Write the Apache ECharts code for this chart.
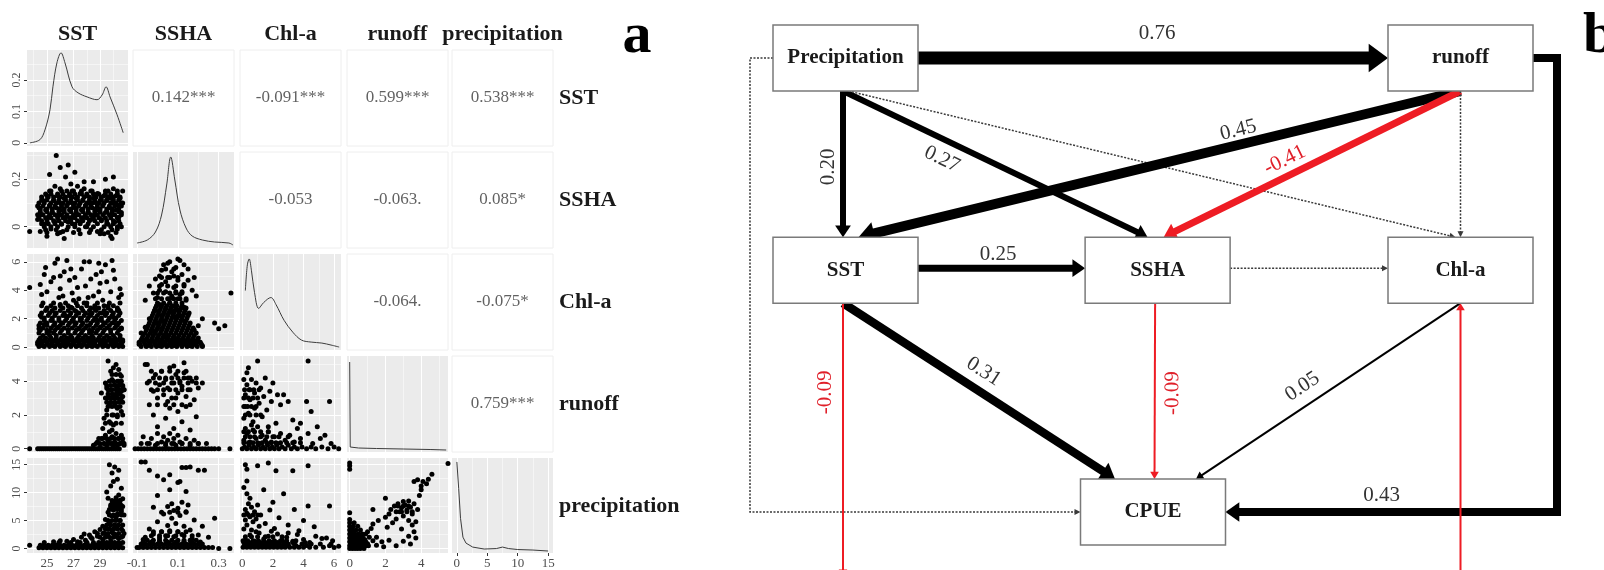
<!DOCTYPE html>
<html><head><meta charset="utf-8">
<script src="https://cdn.jsdelivr.net/npm/echarts@6/dist/echarts.min.js"></script>
<style>html,body{margin:0;padding:0;background:#fff}#c{width:1604px;height:570px}</style>
</head><body><div id="c"></div>
<script>
// ---------------- DATA ----------------
const variables = ['SST', 'SSHA', 'Chl-a', 'runoff', 'precipitation'];
const xTickValues = [[25, 27, 29], [-0.1, 0.1, 0.3], [0, 2, 4, 6], [0, 2, 4], [0, 5, 10, 15]];
const yTickValues = [[0, 0.1, 0.2], [0, 0.2], [0, 2, 4, 6], [0, 2, 4], [0, 5, 10, 15]];
const xMinorValues = [[24, 26, 28, 30], [0, 0.2], [1, 3, 5], [1, 3, 5], [2.5, 7.5, 12.5]];
const yMinorValues = [[0.05, 0.15, 0.25], [0.1, 0.3], [1, 3, 5], [1, 3, 5], [2.5, 7.5, 12.5]];

// correlation labels (upper triangle), [row][col]
const corrLabels = [
  [null, '0.142***', '-0.091***', '0.599***', '0.538***'],
  [null, null, '-0.053', '-0.063.', '0.085*'],
  [null, null, null, '-0.064.', '-0.075*'],
  [null, null, null, null, '0.759***'],
  [null, null, null, null, null]
];

// diagonal densities [value, density]
const densitySST = [[23.72,0.0],[24.47,0.01],[24.85,0.041],[25.23,0.105],[25.45,0.178],[25.75,0.254],[26.06,0.286],[26.36,0.254],[26.89,0.178],[27.34,0.159],[28.02,0.146],[28.77,0.137],[29.15,0.152],[29.45,0.178],[29.75,0.146],[30.28,0.089],[30.74,0.032]];
const densitySSHA = [[-0.1,0.5],[-0.05,0.8],[-0.01,1.6],[0.02,3.3],[0.045,6.3],[0.065,9.1],[0.085,6.8],[0.11,3.8],[0.14,2.0],[0.17,1.2],[0.22,0.8],[0.28,0.6],[0.35,0.5],[0.37,0.3]];
const densityChl = [[0.2,6.0],[0.33,8.6],[0.45,9.2],[0.6,8.0],[0.8,5.8],[1.07,4.2],[1.4,4.8],[1.87,5.3],[2.2,4.6],[2.73,3.0],[3.3,1.8],[3.87,1.0],[4.5,0.8],[5.2,0.7],[5.8,0.5],[6.33,0.3]];
const densityRunoff = [[0,9.0],[0.03,0.5],[0.5,0.4],[1.5,0.35],[3,0.3],[4.5,0.25],[5.4,0.2]];
const densityPrecip = [[0,9.2],[0.3,6.5],[0.6,3.5],[1.0,1.6],[1.5,1.0],[2.6,0.6],[4.5,0.4],[6.5,0.45],[7.5,0.6],[8.5,0.45],[10,0.35],[12.5,0.3],[15,0.2]];

// lower panels: scattered points [x, y]
const scatterSSHA_SST = [[25.7,0.30],[26.6,0.26],[26.0,0.25],[25.2,0.22],[27.1,0.23],[26.4,0.21],[29.4,0.20],[30.0,0.21],[28.5,0.19],[27.8,0.19],[30.7,0.15],[23.7,-0.02],
[24.3,0.03],[24.4,0.08],[24.5,-0.02],[24.6,0.05],[24.7,0.11],[24.8,0.01],[24.9,0.07],[25.0,-0.04],[25.0,0.13],[25.1,0.04],[25.2,0.09],[25.3,-0.01],[25.3,0.15],[25.4,0.06],[25.5,0.11],[25.6,0.02],[25.6,0.17],[25.7,0.08],[25.8,-0.03],[25.8,0.13],[25.9,0.05],[26.0,0.10],[26.0,0.16],[26.1,0.01],[26.2,0.07],[26.3,0.12],[26.3,-0.05],[26.4,0.04],[26.5,0.09],[26.5,0.15],
[26.6,0.02],[26.7,0.07],[26.7,0.13],[26.8,0.18],[26.9,0.04],[26.9,0.10],[27.0,0.15],[27.1,0.01],[27.1,0.08],[27.2,0.12],[27.3,0.05],[27.3,0.17],[27.4,0.09],[27.5,0.14],[27.5,0.02],[27.6,0.07],[27.7,0.11],[27.8,0.04],[27.8,0.16],[27.9,0.09],[28.0,0.13],[28.0,0.00],[28.1,0.06],[28.2,0.10],[28.3,0.15],[28.3,0.03],[28.4,0.08],[28.5,0.12],[28.6,0.05],[28.7,0.10],[28.8,0.14],[28.8,-0.02],[28.9,0.07],[29.0,0.11],
[29.1,0.03],[29.2,0.09],[29.3,0.13],[29.3,-0.03],[29.4,0.06],[29.5,0.11],[29.6,0.01],[29.6,0.15],[29.7,0.08],[29.8,0.12],[29.8,-0.04],[29.9,0.05],[30.0,0.10],[30.0,0.16],[30.1,0.02],[30.2,0.07],[30.2,0.13],[30.3,-0.01],[30.4,0.09],[30.4,0.04],[30.5,0.12],[30.6,0.06],[30.6,0.00],[30.7,0.10],[29.9,-0.05],[29.0,-0.03],[27.5,-0.03],[26.2,-0.02]];
// dense cores, rows of [y, [x values]]
const coreSSHA_SST = [
  [0.15,[25.2,26.1,26.9,27.6,28.4,29.4,30.3]],
  [0.1375,[24.9,25.3,25.8,26.2,26.7,27.1,27.6,28.0,28.5,28.9,29.4,29.8,30.3]],
  [0.125,[24.6,25.1,25.5,26.0,26.4,26.9,27.3,27.8,28.2,28.7,29.1,29.6,30.0,30.5]],
  [0.1125,[24.6,25.0,25.5,25.9,26.4,26.8,27.3,27.7,28.2,28.6,29.1,29.5,30.0,30.4]],
  [0.10,[24.4,24.8,25.3,25.7,26.2,26.6,27.1,27.5,28.0,28.4,28.9,29.3,29.8,30.2,30.6]],
  [0.0875,[24.3,24.7,25.2,25.6,26.1,26.5,27.0,27.4,27.9,28.3,28.8,29.2,29.7,30.1,30.6]],
  [0.075,[24.5,25.0,25.4,25.9,26.3,26.8,27.2,27.7,28.1,28.6,29.0,29.5,29.9,30.4]],
  [0.0625,[24.5,25.0,25.4,25.9,26.3,26.8,27.2,27.7,28.1,28.6,29.0,29.5,29.9,30.4]],
  [0.05,[24.3,24.7,25.2,25.6,26.1,26.5,27.0,27.4,27.9,28.3,28.8,29.2,29.7,30.1,30.6]],
  [0.0375,[24.4,24.9,25.3,25.8,26.2,26.7,27.1,27.6,28.0,28.5,28.9,29.4,29.8,30.3]],
  [0.025,[24.6,25.0,25.5,25.9,26.4,26.8,27.3,27.7,28.2,28.6,29.1,29.5,30.0,30.4]],
  [0.0125,[24.6,25.1,25.6,26.1,26.9,27.5,28.1,28.8,29.5,30.0,30.5]],
  [0.0,[24.8,25.3,25.8,26.6,27.1,27.9,28.5,29.3,29.8,30.3]],
  [-0.0125,[24.9,25.7,26.5,27.4,28.3,29.1,29.9]],
  [-0.025,[25.0,26.0,27.0,28.2,29.6,30.2]]
];

const scatterChl_SST = [[24.3,0.2],[24.5,0.5],[24.7,0.1],[24.9,0.4],[25.1,0.2],[25.3,0.6],[25.5,0.1],[25.7,0.4],[25.9,0.2],[26.1,0.5],[26.3,0.1],[26.5,0.3],[26.7,0.6],[26.9,0.2],[27.1,0.4],[27.3,0.1],[27.5,0.5],[27.7,0.2],[27.9,0.4],[28.1,0.1],[28.3,0.6],[28.5,0.3],[28.7,0.1],[28.9,0.5],[29.1,0.2],[29.3,0.4],[29.5,0.1],[29.7,0.6],[29.9,0.3],[30.1,0.1],[30.3,0.5],[30.5,0.2],[30.7,0.4],
[24.4,1.3],[24.6,2.1],[24.8,1.6],[25.0,2.7],[25.2,1.1],[25.4,1.9],[25.6,2.4],[25.8,1.4],[26.0,3.0],[26.2,1.7],[26.4,2.2],[26.6,1.2],[26.8,2.8],[27.0,1.8],[27.2,2.5],[27.4,1.3],[27.6,2.0],[27.8,3.1],[28.0,1.5],[28.2,2.3],[28.4,1.1],[28.6,2.7],[28.8,1.9],[29.0,1.4],[29.2,2.4],[29.4,1.7],[29.6,2.9],[29.8,1.2],[30.0,2.1],[30.2,1.6],[30.4,2.6],[30.6,1.3],
[24.9,5.6],[25.3,4.6],[25.6,5.9],[26.0,4.1],[26.3,5.3],[26.5,6.1],[26.9,3.8],[27.1,4.9],[27.6,5.5],[27.9,4.3],[28.2,6.0],[28.5,3.6],[28.7,5.1],[29.0,4.5],[29.4,5.8],[29.8,3.9],[30.1,4.8],[30.4,3.5],[25.9,3.5],[27.4,3.4],[29.2,3.3],[24.6,3.7],[23.7,4.2],[26.7,4.7],[28.9,5.9],
[24.5,4.4],[25.0,3.9],[25.5,4.9],[26.2,3.6],[26.8,5.5],[27.3,4.2],[27.8,6.0],[28.3,4.8],[28.9,3.9],[29.5,4.6],[30.0,5.4],[30.5,4.1],[25.8,6.2],[27.0,3.3],[29.9,6.1],[28.1,3.5],[30.6,3.7],[24.8,5.1],[26.0,5.0],[29.1,5.3]];
const coreChl_SST = [
  [0.05,[24.4,24.8,25.2,25.6,26.0,26.4,26.8,27.2,27.6,28.0,28.4,28.8,29.2,29.6,30.0,30.4,30.7]],
  [0.2,[24.6,25.0,25.4,25.8,26.2,26.6,27.0,27.4,27.8,28.2,28.6,29.0,29.4,29.8,30.2,30.6]],
  [0.35,[24.3,24.6,25.0,25.4,25.8,26.2,26.6,27.0,27.4,27.8,28.2,28.6,29.0,29.4,29.8,30.2,30.6]],
  [0.5,[24.4,24.8,25.2,25.6,26.0,26.4,26.8,27.2,27.6,28.0,28.4,28.8,29.2,29.6,30.0,30.4,30.7]],
  [0.65,[24.5,24.9,25.3,25.7,26.1,26.5,26.9,27.3,27.7,28.1,28.5,28.9,29.3,29.7,30.1,30.5]],
  [0.82,[24.7,25.2,25.7,26.3,26.8,27.4,27.9,28.4,29.0,29.5,30.0,30.5]],
  [1.0,[24.4,25.0,25.5,26.0,26.6,27.1,27.6,28.2,28.7,29.2,29.8,30.3]],
  [1.18,[24.5,25.0,25.6,26.1,26.6,27.2,27.7,28.2,28.8,29.3,29.8,30.4]],
  [1.35,[24.7,25.3,25.8,26.3,26.9,27.4,27.9,28.5,29.0,29.5,30.1,30.6]],
  [1.52,[24.4,25.0,25.5,26.0,26.6,27.1,27.6,28.2,28.7,29.2,29.7,30.3]],
  [1.7,[24.5,25.0,25.6,26.1,26.7,27.2,27.7,28.3,28.8,29.3,29.9,30.4]],
  [1.88,[24.8,25.3,25.9,26.4,26.9,27.5,28.0,28.5,29.1,29.6,30.1,30.6]],
  [2.05,[24.8,25.4,25.9,26.5,27.0,27.5,28.1,28.6,29.1,29.7,30.2]],
  [2.22,[24.5,25.1,25.6,26.2,26.7,27.2,27.8,28.3,28.8,29.4,29.9,30.4]],
  [2.4,[24.6,25.2,25.7,26.3,26.8,27.4,27.9,28.4,29.0,29.5,30.0,30.5]],
  [2.58,[24.9,25.4,26.0,26.6,27.1,27.7,28.2,28.7,29.3,29.8,30.3]],
  [2.75,[25.0,25.6,26.2,26.9,27.6,28.3,28.9,29.6,30.3]],
  [2.92,[24.6,25.3,26.0,26.6,27.3,28.0,28.6,29.3,30.0]],
  [3.1,[24.7,25.5,26.4,27.2,28.0,28.8,29.7,30.5]]
];

const scatterChl_SSHA = [[-0.09,0.2],[-0.07,0.5],[-0.05,0.1],[-0.03,0.4],[-0.01,0.2],[0.0,0.6],[0.01,0.1],[0.02,0.4],[0.03,0.2],[0.04,0.7],[0.05,0.1],[0.06,0.4],[0.07,0.2],[0.08,0.6],[0.09,0.1],[0.1,0.3],[0.11,0.5],[0.12,0.1],[0.13,0.4],[0.14,0.2],[0.15,0.6],[0.16,0.1],[0.17,0.3],[0.18,0.2],[0.2,0.4],[0.22,0.1],
[-0.06,1.4],[-0.04,2.0],[-0.02,1.1],[-0.01,2.6],[0.0,1.7],[0.01,3.0],[0.02,1.3],[0.02,2.2],[0.03,1.8],[0.04,2.7],[0.05,2.3],[0.06,3.1],[0.07,2.5],[0.08,2.9],[0.09,2.1],[0.10,2.6],[0.11,2.2],[0.12,1.9],[0.13,2.8],[0.15,2.3],[0.18,1.2],[0.2,1.5],[0.22,2.0],[0.3,1.3],[0.33,1.5],[0.36,3.8],[-0.08,1.0],[0.28,1.7],
[0.0,3.5],[0.02,4.4],[0.03,5.8],[0.04,3.9],[0.05,4.9],[0.06,6.0],[0.07,3.6],[0.07,5.3],[0.08,4.2],[0.09,5.6],[0.1,3.4],[0.1,4.7],[0.11,6.1],[0.12,3.9],[0.12,5.1],[0.13,4.4],[0.14,3.3],[0.15,5.5],[0.17,4.0],[0.01,5.0],[-0.02,3.8],[0.09,3.9],[0.05,5.9],[0.19,3.6],[-0.04,4.3],
[0.01,4.0],[0.04,4.6],[0.08,5.0],[0.11,3.7],[0.13,5.8],[0.02,5.4],[0.06,3.4],[0.1,6.2],[0.15,4.7],[-0.01,4.8],[-0.06,3.3],[0.18,4.9]];
const coreChl_SSHA = [
  [0.05,[-0.08,-0.055,-0.03,-0.005,0.02,0.045,0.07,0.095,0.12,0.145,0.17,0.195,0.22]],
  [0.2,[-0.085,-0.06,-0.035,-0.01,0.015,0.04,0.065,0.09,0.115,0.14,0.165,0.19,0.215]],
  [0.35,[-0.09,-0.065,-0.04,-0.015,0.01,0.035,0.06,0.085,0.11,0.135,0.16,0.185,0.21]],
  [0.5,[-0.08,-0.055,-0.03,-0.005,0.02,0.045,0.07,0.095,0.12,0.145,0.17,0.195]],
  [0.65,[-0.075,-0.05,-0.025,0.0,0.025,0.05,0.075,0.1,0.125,0.15,0.175,0.2]],
  [0.82,[-0.07,-0.045,-0.02,0.005,0.03,0.055,0.08,0.105,0.13,0.155,0.18]],
  [1.0,[-0.06,-0.035,-0.01,0.015,0.04,0.065,0.09,0.115,0.14,0.165,0.19]],
  [1.18,[-0.055,-0.03,-0.005,0.02,0.045,0.07,0.095,0.12,0.145,0.17]],
  [1.35,[-0.05,-0.025,0.0,0.025,0.05,0.075,0.1,0.125,0.15,0.175]],
  [1.52,[-0.045,-0.02,0.005,0.03,0.055,0.08,0.105,0.13,0.155]],
  [1.7,[-0.04,-0.015,0.01,0.035,0.06,0.085,0.11,0.135,0.16]],
  [1.88,[-0.035,-0.01,0.015,0.04,0.065,0.09,0.115,0.14]],
  [2.05,[-0.03,-0.005,0.02,0.045,0.07,0.095,0.12,0.145]],
  [2.22,[-0.025,0.0,0.025,0.05,0.075,0.1,0.125,0.15]],
  [2.4,[-0.02,0.005,0.03,0.055,0.08,0.105,0.13,0.155]],
  [2.58,[-0.015,0.01,0.035,0.06,0.085,0.11,0.135]],
  [2.75,[-0.01,0.015,0.04,0.065,0.09,0.115,0.14]],
  [2.92,[-0.005,0.02,0.045,0.07,0.095,0.12]],
  [3.1,[0.0,0.03,0.06,0.09,0.12]],
  [3.4,[-0.01,0.02,0.05,0.08,0.11,0.14]],
  [3.8,[0.0,0.03,0.06,0.09,0.12]],
  [4.3,[0.01,0.05,0.09,0.13]],
  [4.9,[0.02,0.06,0.1]],
  [5.5,[0.04,0.08]]
];

const scatterRunoff_SST = [[23.7,0],[24.3,0],[24.45,0],[24.6,0],[24.75,0],[24.9,0],[25.05,0],[25.2,0],[25.35,0],[25.5,0],[25.65,0],[25.8,0],[25.95,0],[26.1,0],[26.25,0],[26.4,0],[26.55,0],[26.7,0],[26.85,0],[27.0,0],[27.15,0],[27.3,0],[27.45,0],[27.6,0],[27.75,0],[27.9,0],[28.05,0],[28.2,0],[28.35,0],[28.5,0],[28.65,0],[28.8,0],[28.95,0],[29.1,0],[29.25,0],[29.4,0],[29.55,0],[29.7,0],[29.85,0],[30.0,0],[30.15,0],[30.3,0],[30.45,0],
[28.5,0.2],[28.8,0.4],[29.0,0.1],[29.1,0.6],[29.3,0.3],[29.4,0.8],[29.5,0.2],[29.6,0.5],[29.7,1.0],[29.8,0.3],[29.9,0.7],[30.0,0.1],[30.1,0.4],[30.2,0.9],[30.3,0.2],[30.4,0.6],[30.5,0.3],[30.6,0.8],[30.7,0.4],[30.8,0.2],[29.2,1.2],[30.0,1.4],[29.9,1.1],
[29.3,1.8],[29.5,2.3],[29.6,3.0],[29.7,2.6],[29.8,3.5],[29.9,4.1],[30.0,2.0],[30.0,3.2],[30.1,3.8],[30.1,2.7],[30.2,4.4],[30.2,3.0],[30.3,2.4],[30.3,3.6],[30.4,4.0],[30.4,3.3],[30.5,2.8],[30.5,3.9],[30.6,3.4],[30.6,4.3],[30.7,3.1],[30.7,3.7],[29.8,4.6],[30.0,4.8],[29.6,5.2],[30.2,5.0],[30.4,4.7],[29.4,3.9],[29.1,3.3],[29.5,3.6],[30.8,3.5],[30.1,3.1],[29.9,3.0],[30.3,1.9],[30.6,2.2],[29.7,1.6]];
const coreRunoff_SST = [
  [0.3,[28.7,29.0,29.3,29.6,29.9,30.2,30.5,30.8]],
  [0.6,[28.9,29.2,29.5,29.8,30.1,30.4,30.7]],
  [1.5,[29.4,29.8,30.2,30.6]],
  [2.0,[29.5,29.9,30.3,30.7]],
  [2.5,[29.6,29.9,30.2,30.5]],
  [2.75,[29.5,29.8,30.1,30.4,30.7]],
  [3.0,[29.4,29.7,30.0,30.3,30.6]],
  [3.25,[29.6,29.9,30.2,30.5]],
  [3.5,[29.6,29.9,30.2,30.5,30.8]],
  [3.75,[29.5,29.8,30.1,30.4,30.7]],
  [4.0,[29.7,30.0,30.3,30.6]],
  [4.4,[29.9,30.5]]
];

const scatterRunoff_SSHA = [[-0.11,0],[-0.095,0],[-0.08,0],[-0.065,0],[-0.05,0],[-0.035,0],[-0.02,0],[-0.005,0],[0.01,0],[0.025,0],[0.04,0],[0.055,0],[0.07,0],[0.085,0],[0.1,0],[0.115,0],[0.13,0],[0.145,0],[0.16,0],[0.175,0],[0.19,0],[0.205,0],[0.22,0],[0.235,0],[0.25,0],[0.265,0],[0.28,0],[0.30,0],[0.355,0],
[-0.05,0.3],[-0.03,0.6],[-0.01,0.2],[0.0,0.9],[0.02,0.4],[0.03,0.7],[0.04,0.2],[0.05,0.5],[0.06,0.9],[0.07,0.3],[0.08,0.6],[0.09,0.2],[0.1,0.8],[0.11,0.4],[0.12,0.3],[0.14,0.6],[0.16,0.2],[0.18,0.5],[-0.07,0.7],[0.2,0.3],
[0.0,1.3],[0.04,1.8],[0.08,1.2],[0.1,2.2],[0.12,1.6],[0.14,2.5],[0.06,2.4],[-0.02,2.0],[0.16,1.1],[0.19,1.9],
[-0.06,5.0],[-0.05,5.0],[-0.04,4.0],[-0.02,3.4],[-0.01,4.4],[0.0,3.0],[0.01,3.8],[0.02,4.6],[0.03,3.2],[0.04,4.1],[0.05,3.6],[0.06,4.8],[0.07,3.0],[0.08,3.9],[0.09,4.4],[0.1,3.3],[0.11,4.0],[0.12,3.7],[0.13,4.5],[0.14,3.1],[0.15,4.2],[0.16,3.5],[0.17,4.0],[0.18,2.9],[0.2,3.6],[0.22,3.9],[0.05,2.8],[0.09,3.0],[0.13,5.1],[0.08,4.9]];
const coreRunoff_SSHA = [
  [0.3,[-0.08,-0.04,0.0,0.04,0.08,0.12,0.16,0.2,0.24]],
  [2.6,[-0.04,0.0,0.04,0.08,0.12,0.16]],
  [3.5,[-0.03,0.0,0.03,0.06,0.09,0.12,0.15]],
  [3.9,[-0.05,-0.01,0.03,0.07,0.11,0.15,0.19]],
  [4.2,[-0.02,0.01,0.04,0.07,0.1,0.13,0.16,0.19]],
  [4.6,[-0.03,0.02,0.06,0.1,0.14]]
];

const scatterRunoff_Chl = [[0.0,0],[0.15,0.1],[0.3,0],[0.45,0.2],[0.6,0],[0.75,0.1],[0.9,0],[1.05,0.2],[1.2,0],[1.35,0.1],[1.5,0],[1.65,0.2],[1.8,0],[1.95,0.1],[2.1,0],[2.25,0.2],[2.4,0],[2.6,0.1],[2.8,0],[3.0,0.2],[3.2,0],[3.4,0.1],[3.6,0],[3.9,0.1],[4.2,0],[4.5,0.1],[4.8,0],[5.2,0.1],[5.6,0],[6.0,0.1],[6.3,0],
[0.1,0.5],[0.3,0.9],[0.5,0.4],[0.7,1.1],[0.9,0.6],[1.1,0.3],[1.3,0.8],[1.5,0.5],[1.7,1.0],[1.9,0.4],[2.1,0.7],[2.3,0.3],[2.5,0.9],[2.8,0.5],[3.1,0.8],[3.4,0.4],[3.8,0.6],[4.3,0.9],[4.6,0.3],[5.1,0.6],[5.4,0.8],[5.8,0.3],[0.2,1.2],[1.0,1.3],
[0.1,1.8],[0.2,2.5],[0.2,3.2],[0.3,3.8],[0.3,4.5],[0.4,2.1],[0.5,2.9],[0.5,3.5],[0.6,4.1],[0.7,1.6],[0.8,2.4],[0.8,3.3],[0.9,3.9],[1.0,5.2],[1.1,2.7],[1.2,3.6],[1.3,1.9],[1.4,3.1],[1.5,4.2],[1.6,2.3],[1.8,3.4],[1.9,2.8],[2.0,3.9],[2.2,1.5],[2.3,3.2],[2.5,2.6],[0.1,4.1],[0.6,1.4],[1.7,1.3],[0.4,4.8],
[2.7,3.2],[3.0,2.8],[3.3,1.7],[3.6,1.2],[4.2,2.8],[4.5,2.2],[5.7,2.8],[4.3,5.2],[3.8,1.5],[4.9,1.3]];
const coreRunoff_Chl = [
  [0.35,[0.1,0.4,0.7,1.0,1.3,1.6,1.9,2.2,2.5,2.9,3.3,3.8]],
  [0.7,[0.2,0.5,0.8,1.2,1.6,2.0,2.4,3.0]],
  [1.0,[0.1,0.4,0.8,1.2,1.7]],
  [2.0,[0.2,0.5,0.9,1.2]],
  [2.5,[0.1,0.35,0.6,0.9]],
  [3.0,[0.1,0.4,0.7,1.0]],
  [3.5,[0.15,0.45,0.75,1.1]]
];

const scatterPrecip_SST = [[23.7,0.6],[26.5,1.3],[27.0,1.6],[27.3,1.2],[27.6,2.0],[27.9,1.5],[28.2,2.4],[28.4,1.8],[28.6,3.0],[28.8,2.2],[29.0,3.4],[28.0,1.1],[27.8,2.6],[25.5,1.2],[26.0,1.4],[24.8,1.1],
[29.2,4.0],[29.4,5.2],[29.5,3.5],[29.6,6.5],[29.7,4.6],[29.8,7.8],[29.9,5.8],[30.0,8.3],[30.0,6.9],[30.1,4.2],[30.1,7.4],[30.2,9.1],[30.2,5.5],[30.3,8.0],[30.3,6.2],[30.4,7.1],[30.4,9.6],[30.5,5.0],[30.5,8.6],[30.6,6.6],[30.6,7.7],[30.7,8.9],[30.8,6.0],[29.6,9.0],[29.8,11.2],[30.0,12.0],[30.3,12.4],[29.9,13.5],[29.7,15.0],[30.1,14.6],[30.4,14.0],[29.5,10.1],[30.6,10.8],[30.2,3.8],[29.3,2.8],[30.7,3.2],
[29.2,1.6],[29.5,2.3],[29.8,1.4],[30.1,2.6],[30.4,1.8],[30.7,2.2],[29.9,2.9]];
const corePrecip_SST = [
  [0.15,[24.4,24.7,25.0,25.3,25.6,25.9,26.2,26.5,26.8,27.1,27.4,27.7,28.0,28.3,28.6,28.9,29.2,29.5,29.8,30.1,30.4,30.7]],
  [0.6,[24.5,24.8,25.1,25.4,25.7,26.0,26.3,26.6,26.9,27.2,27.5,27.8,28.1,28.4,28.7,29.0,29.3,29.6,29.9,30.2,30.5]],
  [1.1,[25.9,26.8,27.5,28.0,28.5,28.9,29.2,29.5,29.8,30.1,30.4,30.7]],
  [2.0,[28.3,29.0,29.4,29.7,30.0,30.3,30.6]],
  [2.7,[28.8,29.2,29.6,30.0,30.4,30.8]],
  [3.5,[29.4,29.7,30.0,30.3,30.6]],
  [4.2,[29.5,29.8,30.1,30.4,30.7]],
  [5.0,[29.6,29.9,30.2,30.5]],
  [6.0,[29.7,30.0,30.3,30.6]],
  [7.0,[29.7,30.0,30.3,30.6]],
  [7.5,[29.8,30.1,30.4,30.7]],
  [8.0,[29.9,30.2,30.5]],
  [8.6,[29.9,30.2,30.5]]
];

const scatterPrecip_SSHA = [[-0.06,2.0],[-0.04,3.5],[-0.02,2.6],[0.0,4.8],[0.01,1.9],[0.02,3.0],[0.03,6.2],[0.04,2.3],[0.05,4.1],[0.05,7.5],[0.06,3.2],[0.07,5.4],[0.07,8.0],[0.08,2.1],[0.08,6.8],[0.09,4.5],[0.1,7.2],[0.1,3.0],[0.11,5.9],[0.12,8.3],[0.12,2.5],[0.13,4.0],[0.14,6.6],[0.15,7.8],[0.16,3.3],[0.18,5.1],[0.2,2.4],[0.22,4.0],[0.28,5.4],[0.0,9.5],[0.06,10.5],[0.1,11.8],[0.11,12.0],[0.03,12.3],[-0.02,7.4],[0.14,10.2],[0.17,1.8],[-0.07,1.6],[0.25,2.0],
[-0.08,15.5],[-0.06,15.5],[-0.04,14.0],[0.0,13.0],[0.12,14.5],[0.14,14.5],[0.16,14.6],[0.2,14.0],[0.23,14.0],[0.06,13.2],[0.3,0.0],[0.355,0.0]];
const corePrecip_SSHA = [
  [0.2,[-0.1,-0.09,-0.07,-0.05,-0.03,-0.01,0.01,0.03,0.05,0.07,0.09,0.11,0.13,0.15,0.17,0.19,0.21,0.23,0.25,0.27]],
  [0.8,[-0.08,-0.06,-0.04,-0.02,0.0,0.02,0.04,0.06,0.08,0.1,0.12,0.14,0.16,0.18,0.2,0.22]],
  [1.15,[-0.07,-0.03,0.01,0.05,0.09,0.13,0.17,0.21]],
  [1.5,[-0.05,-0.02,0.01,0.04,0.07,0.1,0.13,0.16,0.19]],
  [2.3,[-0.03,0.01,0.05,0.09,0.13,0.17]],
  [3.0,[-0.02,0.02,0.06,0.1,0.14]],
  [6.5,[0.02,0.06,0.1,0.14]]
];

const scatterPrecip_Chl = [[0.2,1.5],[0.5,2.4],[0.8,1.3],[1.1,2.8],[1.4,1.7],[1.7,2.2],[2.0,1.2],[2.3,2.6],[2.6,1.5],[2.9,2.0],[3.3,1.3],[3.6,2.5],[4.0,1.6],[4.4,1.1],[4.8,2.2],[5.2,1.8],[5.5,1.9],[5.9,1.4],[1.9,3.1],[3.0,2.8],[6.3,0.4],[6.0,0.2],[5.7,0.5],
[0.1,3.5],[0.2,5.1],[0.2,7.0],[0.3,4.2],[0.3,6.3],[0.4,8.0],[0.5,5.7],[0.6,3.3],[0.6,7.4],[0.7,4.8],[0.8,6.6],[0.9,5.3],[1.0,7.8],[1.1,4.0],[1.2,6.0],[0.3,9.8],[0.3,12.1],[0.1,10.9],[0.5,9.0],[0.9,3.0],
[1.5,4.5],[1.8,6.9],[2.1,3.6],[2.4,5.5],[2.7,9.8],[3.0,4.2],[3.4,7.0],[3.7,3.2],[4.0,5.0],[4.3,7.6],[4.7,3.9],[5.7,7.6],[2.0,8.3],[1.4,10.5],
[0.3,14.2],[1.0,14.8],[1.7,15.3],[2.2,13.9],[3.3,13.9],[4.3,14.8],[0.2,15.0]];
const corePrecip_Chl = [
  [0.25,[0.05,0.3,0.55,0.8,1.05,1.3,1.55,1.8,2.05,2.3,2.55,2.8,3.1,3.4,3.7,4.0,4.4,4.8,5.3]],
  [0.55,[0.2,0.5,0.8,1.1,1.4,1.7,2.0,2.3,2.6,3.0,3.5,4.2]],
  [0.8,[0.15,0.4,0.65,0.9,1.15,1.4,1.65,1.9,2.15,2.4,2.7,3.0,3.4,3.9,4.5,5.1,5.8]],
  [1.1,[0.1,0.45,0.8,1.15,1.5,1.9,2.3,2.8,3.3,4.1]],
  [1.4,[0.05,0.35,0.7,1.05,1.4,1.75,2.1,2.5,2.9,3.5]],
  [2.1,[0.2,0.6,1.0,1.5,2.0,2.6]],
  [6.0,[0.1,0.4,0.7,1.0]]
];

const scatterPrecip_Runoff = [[0,5.2],[0,6.4],[0,14.2],[0,14.8],[0,15.3],[1.2,3.6],[1.0,3.0],[0.9,2.6],[1.1,2.0],[1.3,1.4],[1.5,0.6],
[1.3,4.4],[1.6,5.0],[1.5,2.0],[1.8,1.2],[2.0,5.6],[2.1,3.8],[2.2,6.2],[2.3,7.0],[2.4,4.6],[2.5,7.6],[2.6,5.3],[2.7,8.0],[2.8,6.6],[2.9,7.3],[3.0,8.4],[3.0,5.8],[3.1,7.8],[3.2,6.9],[3.3,8.5],[3.3,5.0],[3.4,7.4],[3.5,6.2],[3.6,8.0],[3.7,4.8],[3.8,7.0],[3.5,4.2],[3.6,3.0],[3.3,2.2],[3.0,1.3],[3.4,0.8],[2.6,0.5],[2.2,1.5],[1.9,0.3],[3.7,1.9],[4.0,10.5],[4.0,11.2],[3.9,9.5],[3.6,12.0],[3.8,12.3],[4.1,12.0],[4.4,12.4],[4.6,13.3],[4.3,11.6],[5.5,15.2],[2.0,9.0],[1.3,7.0],[2.9,3.5]];
const corePrecip_Runoff = [
  [0.0,[0.0,0.15,0.3,0.45,0.6,0.8]],
  [0.5,[0.0,0.15,0.3,0.45,0.6,0.75,0.9,1.05]],
  [0.85,[0.05,0.2,0.35,0.5,0.65,0.8,1.0]],
  [1.2,[0.0,0.15,0.3,0.45,0.6,0.75,0.9]],
  [1.55,[0.05,0.2,0.35,0.5,0.65,0.85]],
  [1.9,[0.0,0.15,0.3,0.45,0.6,0.75]],
  [2.25,[0.05,0.2,0.4,0.6]],
  [2.6,[0.0,0.15,0.3,0.5,0.7]],
  [3.3,[0.0,0.15,0.35,0.6]],
  [4.0,[0.0,0.2,0.45]],
  [4.6,[0.0,0.25]],
  [6.6,[2.6,2.9,3.2,3.5]],
  [7.6,[2.7,3.0,3.3]]
];

// path diagram (panel b)
const pathNodes = [
  {name: 'Precipitation', col: 0, row: 0},
  {name: 'runoff', col: 2, row: 0},
  {name: 'SST', col: 0, row: 1},
  {name: 'SSHA', col: 1.015, row: 1},
  {name: 'Chl-a', col: 2, row: 1},
  {name: 'CPUE', col: 1, row: 2.14},
  {name: 'below-left', col: 0, row: 2.6, hidden: true},
  {name: 'below-right', col: 2, row: 2.6, hidden: true}
];
// coef null = non-significant path (dotted); negative = red
const pathEdges = [
  {from: 'Precipitation', to: 'runoff', coef: 0.76},
  {from: 'Precipitation', to: 'SST', coef: 0.20},
  {from: 'Precipitation', to: 'SSHA', coef: 0.27},
  {from: 'Precipitation', to: 'Chl-a', coef: null},
  {from: 'runoff', to: 'SST', coef: 0.45},
  {from: 'runoff', to: 'SSHA', coef: -0.41},
  {from: 'runoff', to: 'Chl-a', coef: null},
  {from: 'SST', to: 'SSHA', coef: 0.25},
  {from: 'SSHA', to: 'Chl-a', coef: null},
  {from: 'SST', to: 'CPUE', coef: 0.31},
  {from: 'SSHA', to: 'CPUE', coef: -0.09},
  {from: 'Chl-a', to: 'CPUE', coef: 0.05},
  {from: 'runoff', to: 'CPUE', coef: 0.43},
  {from: 'Precipitation', to: 'CPUE', coef: null},
  {from: 'SST', to: 'below-left', coef: -0.09},
  {from: 'below-right', to: 'Chl-a', coef: -1, unlabeled: true}
];

// ---------------- LAYOUT / STYLE ----------------
const cellX = [27, 133, 240, 347, 452], cellY = [50, 152, 254, 356, 458], CW = 101, CH = 96;
const colExtents = [[23.5, 31.1], [-0.12, 0.375], [-0.15, 6.45], [-0.15, 5.5], [-0.8, 15.8]];
const rowExtents = [[-0.01, 0.295], [-0.09, 0.315], [-0.2, 6.55], [-0.2, 5.5], [-0.8, 16.2]];
const diagMax = [0.295, 9.6, 9.7, 9.6, 9.6];
const densities = [densitySST, densitySSHA, densityChl, densityRunoff, densityPrecip];
function rowsToPoints(rows) {
  const out = [];
  rows.forEach(function (r) { r[1].forEach(function (x) { out.push([x, r[0]]); }); });
  return out;
}
const scatterSets = {
  '1_0': scatterSSHA_SST.concat(rowsToPoints(coreSSHA_SST)),
  '2_0': scatterChl_SST.concat(rowsToPoints(coreChl_SST)),
  '2_1': scatterChl_SSHA.concat(rowsToPoints(coreChl_SSHA)),
  '3_0': scatterRunoff_SST.concat(rowsToPoints(coreRunoff_SST)),
  '3_1': scatterRunoff_SSHA.concat(rowsToPoints(coreRunoff_SSHA)),
  '3_2': scatterRunoff_Chl.concat(rowsToPoints(coreRunoff_Chl)),
  '4_0': scatterPrecip_SST.concat(rowsToPoints(corePrecip_SST)),
  '4_1': scatterPrecip_SSHA.concat(rowsToPoints(corePrecip_SSHA)),
  '4_2': scatterPrecip_Chl.concat(rowsToPoints(corePrecip_Chl)),
  '4_3': scatterPrecip_Runoff.concat(rowsToPoints(corePrecip_Runoff))
};
const SERIF = '"Liberation Serif", "Times New Roman", serif';

const grids = [], xAxes = [], yAxes = [], series = [], graphics = [];
let gi = 0;
for (let r = 0; r < 5; r++) {
  for (let c = 0; c < 5; c++) {
    const upper = c > r, diag = c === r;
    grids.push({left: cellX[c], top: cellY[r], width: CW, height: CH, show: true,
      backgroundColor: upper ? '#ffffff' : '#ebebeb', borderColor: upper ? '#eeeeee' : '#ebebeb', borderWidth: upper ? 1 : 0});
    const showX = (r === 4), showY = (c === 0);
    if (upper) {
      xAxes.push({gridIndex: gi, type: 'value', min: 0, max: 1, show: false});
      yAxes.push({gridIndex: gi, type: 'value', min: 0, max: 1, show: false});
      series.push({type: 'scatter', xAxisIndex: gi, yAxisIndex: gi, symbolSize: 0, silent: true,
        data: [[0.5, 0.5]],
        label: {show: true, position: 'inside', formatter: corrLabels[r][c], fontFamily: SERIF, fontSize: 17, color: '#3a3a3a'}});
    } else {
      xAxes.push({gridIndex: gi, type: 'value', min: colExtents[c][0], max: colExtents[c][1],
        axisLine: {show: false}, splitLine: {show: false},
        axisTick: {show: showX, length: 3, lineStyle: {color: '#333'}, customValues: xTickValues[c]},
        axisLabel: {show: showX, customValues: xTickValues[c], margin: 4, fontFamily: SERIF, fontSize: 13, color: '#4d4d4d'}});
      const yDiagHidden = diag && r > 0;
      const yMin = yDiagHidden ? 0 : rowExtents[r][0];
      const yMax = yDiagHidden ? diagMax[r] : rowExtents[r][1];
      yAxes.push({gridIndex: gi, type: 'value', min: yMin, max: yMax,
        axisLine: {show: false}, splitLine: {show: false},
        axisTick: {show: showY, length: 3, lineStyle: {color: '#333'}, customValues: yTickValues[r]},
        axisLabel: {show: showY, customValues: yTickValues[r], rotate: 90, margin: 4, fontFamily: SERIF, fontSize: 12, color: '#4d4d4d'}});
      const ml = [];
      xTickValues[c].forEach(v => ml.push({xAxis: v, lineStyle: {color: '#fff', width: 1.1, type: 'solid'}}));
      xMinorValues[c].forEach(v => ml.push({xAxis: v, lineStyle: {color: '#fff', width: 0.5, type: 'solid'}}));
      if (!yDiagHidden) {
        yTickValues[r].forEach(v => ml.push({yAxis: v, lineStyle: {color: '#fff', width: 1.1, type: 'solid'}}));
        yMinorValues[r].forEach(v => ml.push({yAxis: v, lineStyle: {color: '#fff', width: 0.5, type: 'solid'}}));
      }
      series.push({type: 'line', xAxisIndex: gi, yAxisIndex: gi, data: [], z: 1, silent: true,
        markLine: {silent: true, symbol: ['none', 'none'], label: {show: false}, animation: false, data: ml}});
      if (diag) {
        series.push({type: 'line', xAxisIndex: gi, yAxisIndex: gi, data: densities[r], showSymbol: false, symbol: 'none',
          smooth: r <= 2 ? 0.35 : false, zlevel: 1, z: 3, silent: true, lineStyle: {color: '#3c3c3c', width: 1}});
      } else {
        series.push({type: 'scatter', xAxisIndex: gi, yAxisIndex: gi, data: scatterSets[r + '_' + c], symbol: 'circle',
          symbolSize: 5, zlevel: 1, z: 3, silent: true, itemStyle: {color: '#000', opacity: 1}});
      }
    }
    gi++;
  }
}
for (let c = 0; c < 5; c++) {
  graphics.push({type: 'text', x: cellX[c] + CW / 2, y: 34, style: {text: variables[c], font: 'bold 22px ' + SERIF, fill: '#1a1a1a', align: 'center', verticalAlign: 'middle', textAlign: 'center', textVerticalAlign: 'middle'}});
}
for (let r = 0; r < 5; r++) {
  graphics.push({type: 'text', x: 559, y: cellY[r] + CH / 2, style: {text: variables[r], font: 'bold 22px ' + SERIF, fill: '#1a1a1a', align: 'left', verticalAlign: 'middle', textAlign: 'left', textVerticalAlign: 'middle'}});
}
graphics.push({type: 'text', x: 637, y: 37, style: {text: 'a', font: 'bold 58px ' + SERIF, fill: '#000', align: 'center', verticalAlign: 'middle', textAlign: 'center', textVerticalAlign: 'middle'}});
graphics.push({type: 'text', x: 1583, y: 37, style: {text: 'b', font: 'bold 58px ' + SERIF, fill: '#000', align: 'left', verticalAlign: 'middle', textAlign: 'left', textVerticalAlign: 'middle'}});

// ---- panel b: path diagram on a hidden cartesian grid ----
const PG = gi;
grids.push({left: 845.5, top: 58, width: 615, height: 454, show: false});
xAxes.push({gridIndex: PG, type: 'value', min: 0, max: 2, show: false});
yAxes.push({gridIndex: PG, type: 'value', min: 0, max: 2.14, inverse: true, show: false});

const BOX_W = 145, BOX_H = 66;
const edgeLayout = [
  {fs: 'right', fo: 0, ts: 'left', to: 0, w: 13, t: 0.509, lx: 0, ly: -25},
  {fs: 'bottom', fo: -2.5, ts: 'top', to: -2.5, w: 6, t: 0.52, lx: -15, ly: 0},
  {fs: 'bottom', fo: -2.5, ts: 'top', to: -10, w: 6, t: 0.351, lx: -8, ly: 17},
  {fs: 'bottom', fo: 3, ts: 'top', to: -5},
  {fs: 'bottom', fo: 0, ts: 'top', to: 13, w: 10, t: 0.364, lx: -3, ly: -14},
  {fs: 'bottom', fo: 0, ts: 'top', to: 6, w: 7, t: 0.568, lx: -7, ly: -14},
  {fs: 'bottom', fo: 0, ts: 'top', to: 0},
  {fs: 'right', fo: -2, ts: 'left', to: -2, w: 7, t: 0.479, lx: 0, ly: -14},
  {fs: 'right', fo: -2, ts: 'left', to: -2},
  {fs: 'bottom', fo: -2.5, ts: 'top', to: -38, w: 8.5, t: 0.48, lx: 10, ly: -16},
  {fs: 'bottom', fo: -2.5, ts: 'top', to: 1.5, w: 2, t: 0.511, lx: 18, ly: 0},
  {fs: 'bottom', fo: 0, ts: 'top', to: 43, w: 2, t: 0.56, lx: -10, ly: -15},
  {fs: 'right', fo: 0, ts: 'right', to: 0, w: 8, elbow: 24, t: 0.529, lx: 0, ly: -17},
  {fs: 'left', fo: 0, ts: 'left', to: 0, elbow: -23},
  {fs: 'bottom', fo: -2.5, ts: 'top', to: -2.5, w: 2, t: 0.326, lx: -18, ly: 0},
  {fs: 'top', fo: 0, ts: 'bottom', to: 0, w: 2}
];
const nodeByName = {};
pathNodes.forEach(n => nodeByName[n.name] = n);

function anchor(api, node, side, off) {
  const p = api.coord([node.col, node.row]);
  if (side === 'top') return [p[0] + off, p[1] - BOX_H / 2];
  if (side === 'bottom') return [p[0] + off, p[1] + BOX_H / 2];
  if (side === 'left') return [p[0] - BOX_W / 2, p[1] + off];
  return [p[0] + BOX_W / 2, p[1] + off];
}

series.push({
  type: 'custom', xAxisIndex: PG, yAxisIndex: PG, clip: false, z: 5, silent: true,
  data: pathEdges.map((e, i) => [0, 0, i]),
  encode: {x: 0, y: 1},
  renderItem: function (params, api) {
    const e = pathEdges[params.dataIndex], L = edgeLayout[params.dataIndex];
    const A = anchor(api, nodeByName[e.from], L.fs, L.fo);
    const B = anchor(api, nodeByName[e.to], L.ts, L.to);
    let pts;
    if (L.elbow) {
      const ex = A[0] + L.elbow;
      pts = [A, [ex, A[1]], [ex, B[1]], B];
    } else pts = [A, B];
    const dotted = e.coef === null;
    const color = dotted ? '#3a3a3a' : (e.coef < 0 ? '#ee1c24' : '#000');
    const w = dotted ? 1.5 : L.w;
    const hl = dotted ? 6 : 5 + w * 1.1, hw = dotted ? 6 : 5 + w * 1.8;
    const children = [];
    const P = pts[pts.length - 1], Q = pts[pts.length - 2];
    let dx = P[0] - Q[0], dy = P[1] - Q[1];
    const len = Math.hypot(dx, dy), ux = dx / len, uy = dy / len;
    const base = [P[0] - ux * hl, P[1] - uy * hl];
    const linePts = pts.slice(0, pts.length - 1).concat([[base[0] + ux, base[1] + uy]]);
    children.push({type: 'polyline', shape: {points: linePts},
      style: {stroke: color, lineWidth: w, fill: 'none', lineDash: dotted ? [2, 1.5] : null, lineJoin: 'miter', lineCap: 'butt'}});
    children.push({type: 'polygon', shape: {points: [P, [base[0] - uy * hw / 2, base[1] + ux * hw / 2], [base[0] + uy * hw / 2, base[1] - ux * hw / 2]]},
      style: {fill: color}});
    if (!dotted && !e.unlabeled) {
      const px = Q[0] + (P[0] - Q[0]) * L.t, py = Q[1] + (P[1] - Q[1]) * L.t;
      if (dx < 0 || (Math.abs(dx) < 1e-6 && dy > 0)) { dx = -dx; dy = -dy; }
      const rot = -Math.atan2(dy, dx);
      children.push({type: 'text', x: px + L.lx, y: py + L.ly, rotation: rot,
        style: {text: e.coef.toFixed(2), font: '21px ' + SERIF, fill: e.coef < 0 ? '#e0202a' : '#333',
          align: 'center', verticalAlign: 'middle', textAlign: 'center', textVerticalAlign: 'middle'}});
    }
    return {type: 'group', children: children};
  }
});

const visibleNodes = pathNodes.filter(n => !n.hidden);
series.push({
  type: 'custom', xAxisIndex: PG, yAxisIndex: PG, clip: false, z: 10, silent: true,
  data: visibleNodes.map(n => [n.col, n.row]),
  encode: {x: 0, y: 1},
  renderItem: function (params, api) {
    const n = visibleNodes[params.dataIndex];
    const p = api.coord([n.col, n.row]);
    return {type: 'group', children: [
      {type: 'rect', shape: {x: p[0] - BOX_W / 2, y: p[1] - BOX_H / 2, width: BOX_W, height: BOX_H},
        style: {fill: '#fff', stroke: '#7a7a7a', lineWidth: 1.5}},
      {type: 'text', x: p[0], y: p[1], style: {text: n.name, font: 'bold 21px ' + SERIF, fill: '#1a1a1a',
        align: 'center', verticalAlign: 'middle', textAlign: 'center', textVerticalAlign: 'middle'}}
    ]};
  }
});

const chart = echarts.init(document.getElementById('c'), null, {renderer: 'canvas'});
chart.setOption({
  animation: false,
  backgroundColor: '#ffffff',
  grid: grids, xAxis: xAxes, yAxis: yAxes, series: series, graphic: graphics
});
</script></body></html>
